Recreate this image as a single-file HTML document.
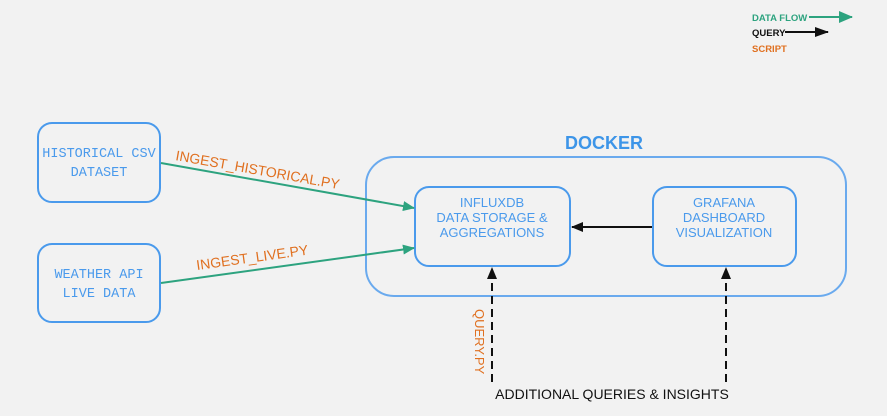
<!DOCTYPE html>
<html><head><style>body{margin:0;background:#f2f2f2}</style></head><body>
<svg width="887" height="416" xmlns="http://www.w3.org/2000/svg" style="display:block;font-family:'Liberation Sans',sans-serif">
<defs>
<marker id="g" markerWidth="12" markerHeight="10" refX="11" refY="5" orient="auto" markerUnits="userSpaceOnUse"><path d="M0,0L12,5L0,10z" fill="#2da37f"/></marker>
<marker id="k" markerWidth="12" markerHeight="10" refX="11" refY="5" orient="auto" markerUnits="userSpaceOnUse"><path d="M0,0L12,5L0,10z" fill="#111"/></marker>
<marker id="gl" markerWidth="14" markerHeight="12" refX="13" refY="6" orient="auto" markerUnits="userSpaceOnUse"><path d="M0,0L14,6L0,12z" fill="#2da37f"/></marker>
<marker id="kl" markerWidth="14" markerHeight="10" refX="13" refY="5" orient="auto" markerUnits="userSpaceOnUse"><path d="M0,0L14,5L0,10z" fill="#111"/></marker>
</defs>
<rect width="887" height="416" fill="#f2f2f2"/>
<g font-size="9.5" font-weight="bold">
<text x="752" y="21" fill="#2da37f">DATA FLOW</text>
<line x1="809" y1="17" x2="852" y2="17" stroke="#2da37f" stroke-width="2" marker-end="url(#gl)"/>
<text x="752" y="36" fill="#111">QUERY</text>
<line x1="785" y1="32" x2="828" y2="32" stroke="#111" stroke-width="2" marker-end="url(#kl)"/>
<text x="752" y="52" fill="#e07020">SCRIPT</text>
</g>
<rect x="366" y="157" width="480" height="139" rx="28" fill="none" stroke="#6aaaee" stroke-width="2"/>
<text x="604" y="149" text-anchor="middle" fill="#3d95e8" font-size="18" font-weight="bold">DOCKER</text>
<g fill="none" stroke="#4a9aec" stroke-width="2">
<rect x="38" y="123" width="122" height="79" rx="14"/>
<rect x="38" y="244" width="122" height="78" rx="14"/>
<rect x="415" y="187" width="155" height="79" rx="14"/>
<rect x="653" y="187" width="143" height="79" rx="14"/>
</g>
<g fill="#4a9aec" font-size="13.5" text-anchor="middle" font-family="'Liberation Mono',monospace">
<text x="99" y="157">HISTORICAL CSV</text><text x="99" y="176">DATASET</text>
<text x="99" y="278">WEATHER API</text><text x="99" y="297">LIVE DATA</text>
</g>
<g fill="#4a9aec" font-size="13" text-anchor="middle">
<text x="492" y="207">INFLUXDB</text><text x="492" y="222">DATA STORAGE &amp;</text><text x="492" y="237">AGGREGATIONS</text>
<text x="724" y="207">GRAFANA</text><text x="724" y="222">DASHBOARD</text><text x="724" y="237">VISUALIZATION</text>
</g>
<line x1="161" y1="163" x2="414" y2="208" stroke="#2da37f" stroke-width="2" marker-end="url(#g)"/>
<line x1="161" y1="283" x2="414" y2="248" stroke="#2da37f" stroke-width="2" marker-end="url(#g)"/>
<text transform="translate(175,160) rotate(10.1)" fill="#e07020" font-size="14">INGEST_HISTORICAL.PY</text>
<text transform="translate(197,270) rotate(-7.9)" fill="#e07020" font-size="14">INGEST_LIVE.PY</text>
<line x1="652" y1="227" x2="572" y2="227" stroke="#111" stroke-width="2" marker-end="url(#k)"/>
<line x1="492" y1="382" x2="492" y2="268" stroke="#111" stroke-width="2" stroke-dasharray="8,5" marker-end="url(#k)"/>
<line x1="726" y1="382" x2="726" y2="268" stroke="#111" stroke-width="2" stroke-dasharray="8,5" marker-end="url(#k)"/>
<text transform="translate(475,309) rotate(90)" fill="#e07020" font-size="13">QUERY.PY</text>
<text x="612" y="399" text-anchor="middle" fill="#111" font-size="14">ADDITIONAL QUERIES &amp; INSIGHTS</text>
</svg>
</body></html>
